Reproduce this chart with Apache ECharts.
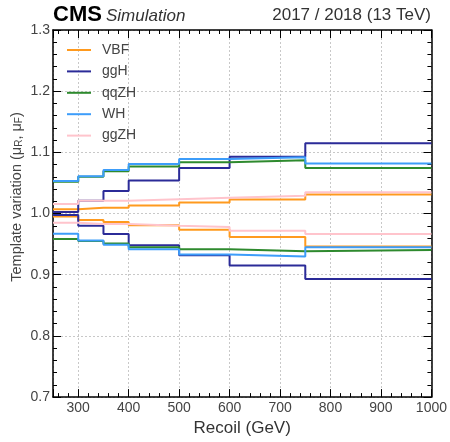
<!DOCTYPE html>
<html>
<head>
<meta charset="utf-8">
<script src="https://cdn.jsdelivr.net/npm/echarts@6/dist/echarts.min.js"></script>
<style>
html,body{margin:0;padding:0;background:#fff;}
#chart{width:450px;height:442px;}
</style>
</head>
<body>
<div id="chart"></div>
<script>
// Bin edges (GeV)
const edges = [250, 300, 350, 400, 500, 600, 750, 1000];
const xTicks = [300, 400, 500, 600, 700, 800, 900, 1000];
const yTicks = [0.7, 0.8, 0.9, 1.0, 1.1, 1.2, 1.3];
const processes = ['VBF', 'ggH', 'qqZH', 'WH', 'ggZH'];
const colors = ['#ff9a1e', '#2b2b98', '#2e8a2e', '#3d9dfa', '#ffc4cc'];

// Up / down variations per bin
const vbfUp    = [1.007, 1.0095, 1.0095, 1.013, 1.018, 1.023, 1.031];
const vbfDown  = [0.995, 0.9895, 0.986, 0.981, 0.9735, 0.9615, 0.946];
const ggHUp    = [1.0025, 1.021, 1.037, 1.054, 1.0745, 1.093, 1.115];
const ggHDown  = [0.9975, 0.980, 0.9665, 0.948, 0.932, 0.915, 0.893];
const qqZHUp   = [1.052, 1.060, 1.069, 1.077, 1.084, 1.087, 1.0745];
const qqZHDown = [0.9585, 0.955, 0.951, 0.945, 0.9415, 0.9385, 0.9405];
const whUp     = [1.053, 1.061, 1.071, 1.081, 1.089, 1.092, 1.082];
const whDown   = [0.967, 0.956, 0.949, 0.9415, 0.933, 0.930, 0.945];
const ggZHUp   = [1.0155, 1.021, 1.021, 1.0235, 1.026, 1.029, 1.035];
const ggZHDown = [0.985, 0.983, 0.983, 0.980, 0.978, 0.972, 0.9665];

const variations = [
  [vbfUp, vbfDown],
  [ggHUp, ggHDown],
  [qqZHUp, qqZHDown],
  [whUp, whDown],
  [ggZHUp, ggZHDown]
];

function stepData(vals) {
  return edges.map((e, i) => [e, vals[Math.min(i, vals.length - 1)]]);
}

const FONT = '"Liberation Sans", Arial, Helvetica, sans-serif';

const series = [];
processes.forEach((p, k) => {
  variations[k].forEach(vals => {
    series.push({
      name: p,
      type: 'line',
      step: 'end',
      symbol: 'none',
      data: stepData(vals),
      lineStyle: { color: colors[k], width: 2 },
      itemStyle: { color: colors[k] },
      emphasis: { disabled: true },
      z: 2 + k
    });
  });
});

function xAxisDef(pos, showLabels) {
  return {
    type: 'value', position: pos, min: 250, max: 1000,
    splitNumber: 7, minInterval: 100, maxInterval: 100,
    name: showLabels ? 'Recoil (GeV)' : '',
    nameLocation: 'middle', nameGap: 8,
    nameTextStyle: { fontFamily: FONT, fontSize: 17, color: '#333', verticalAlign: 'top' },
    axisLine: { show: true, onZero: false, lineStyle: { color: '#000', width: 1.5 } },
    axisTick: { show: true, inside: true, length: 8, lineStyle: { color: '#000', width: 1 } },
    minorTick: { show: true, splitNumber: 5, length: 4, lineStyle: { color: '#000', width: 1 } },
    axisLabel: {
      show: showLabels, margin: 4, fontFamily: FONT, fontSize: 14, color: '#444',
      formatter: v => (xTicks.indexOf(v) >= 0 ? String(v) : '')
    },
    splitLine: { show: showLabels, lineStyle: { color: '#c8c8c8', type: [2, 2], width: 1 } }
  };
}
function yAxisDef(pos, showLabels) {
  return {
    type: 'value', position: pos, min: yTicks[0], max: yTicks[yTicks.length - 1], interval: 0.1,
    axisLine: { show: true, onZero: false, lineStyle: { color: '#000', width: 1.5 } },
    axisTick: { show: true, inside: true, length: 8, lineStyle: { color: '#000', width: 1 } },
    minorTick: { show: true, splitNumber: 5, length: 4, lineStyle: { color: '#000', width: 1 } },
    axisLabel: {
      show: showLabels, margin: 3, fontFamily: FONT, fontSize: 14, color: '#444',
      formatter: v => v.toFixed(1)
    },
    splitLine: { show: showLabels, lineStyle: { color: '#c8c8c8', type: [2, 2], width: 1 } }
  };
}

const chart = echarts.init(document.getElementById('chart'), null, { renderer: 'canvas' });
chart.setOption({
  animation: false,
  backgroundColor: '#fff',
  grid: { left: 53, right: 18, top: 30, bottom: 36, containLabel: false },
  xAxis: [xAxisDef('bottom', true), xAxisDef('top', false)],
  yAxis: [yAxisDef('left', true), yAxisDef('right', false)],
  legend: {
    data: processes.map(p => ({ name: p, icon: 'rect' })),
    orient: 'vertical',
    left: 67, top: 42, padding: 0,
    itemWidth: 24, itemHeight: 2, itemGap: 5.4,
    selectedMode: false,
    textStyle: { fontFamily: FONT, fontSize: 14, color: '#444', lineHeight: 16, padding: [0, 0, 0, 6] }
  },
  graphic: [
    { type: 'text', left: 53, top: 4, style: { text: 'CMS', font: 'bold 22px ' + FONT, fill: '#000' } },
    { type: 'text', left: 106, top: 8, style: { text: 'Simulation', font: 'italic 17px ' + FONT, fill: '#333' } },
    { type: 'text', right: 19, top: 7, style: { text: '2017 / 2018 (13 TeV)', font: '17px ' + FONT, fill: '#333' } },
    {
      type: 'text', x: 17, y: 197, rotation: Math.PI / 2,
      style: {
        text: 'Template variation (μ{s|R}, μ{s|F})',
        font: '14.5px ' + FONT, fill: '#444', align: 'center', verticalAlign: 'middle',
        rich: { s: { fontSize: 10, fontFamily: FONT, fill: '#444', verticalAlign: 'bottom' } }
      }
    }
  ],
  series: series
});
</script>
</body>
</html>
